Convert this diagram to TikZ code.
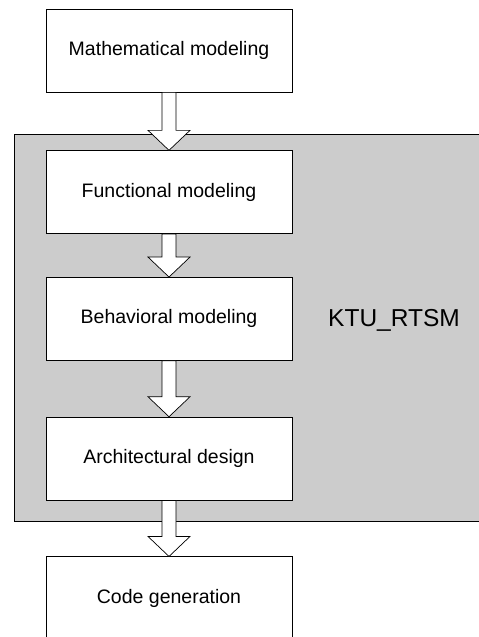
\documentclass[tikz,border=0pt]{standalone}
\usepackage{fontspec}
\setmainfont{Liberation Sans}
\usetikzlibrary{positioning,calc}

\tikzset{
 stage/.style={draw,fill=white,line width=0.7pt,minimum width=246pt,minimum height=83pt,
  inner sep=0pt,font=\fontsize{19.5}{23}\selectfont},
 pipe/.style={draw,fill=white,line width=0.7pt}
}
% hollow arrow from the bottom of one stage to the top of the next
\newcommand{\hollowarrow}[2]{%
 \path[pipe] ($(#1.south)+(-7,0)$) -- ($(#2.north)+(-7,-20)$) -- ($(#2.north)+(-21,-20)$)
  -- (#2.north) -- ($(#2.north)+(21,-20)$) -- ($(#2.north)+(7,-20)$)
  -- ($(#1.south)+(7,0)$) -- cycle;}

\begin{document}
\begin{tikzpicture}[x=1pt,y=-1pt]
 \useasboundingbox (0,0) rectangle (479,637);

 % tool container
 \draw[fill=black!20,line width=0.7pt] (14,134) rectangle (495,521);
 \node[font=\fontsize{24.5}{29}\selectfont] (ktu) at (394,320) {KTU\_RTSM};

 \node[stage] (math) at (169,50.5) {Mathematical modeling};
 \node[stage] (func) [below=58pt of math] {Functional modeling};
 \node[stage] (behav) [below=43pt of func] {Behavioral modeling};
 \node[stage] (arch) [below=56pt of behav] {Architectural design};
 \node[stage] (code) [below=56pt of arch] {Code generation};

 \hollowarrow{math}{func}
 \hollowarrow{func}{behav}
 \hollowarrow{behav}{arch}
 \hollowarrow{arch}{code}
\end{tikzpicture}
\end{document}
